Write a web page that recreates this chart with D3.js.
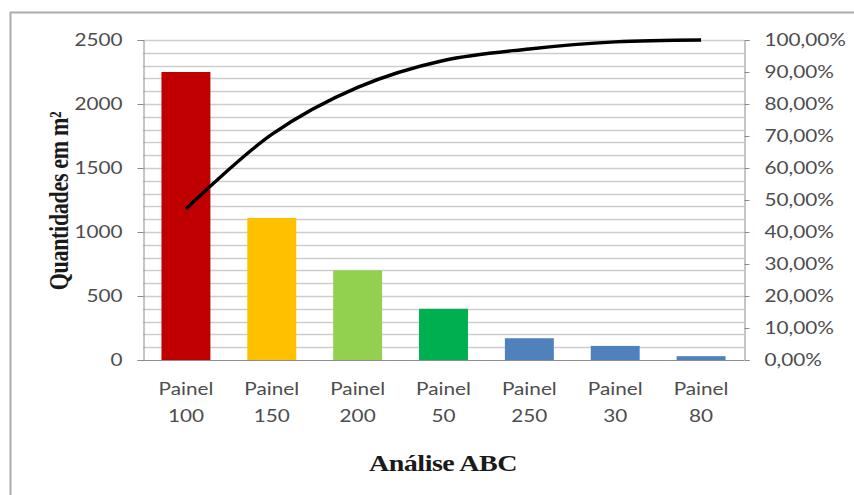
<!DOCTYPE html>
<html>
<head>
<meta charset="utf-8">
<script src="https://cdn.jsdelivr.net/npm/d3@7"></script>
<style>
  html, body { margin: 0; padding: 0; background: #fff; }
  svg { display: block; }
</style>
</head>
<body>
<svg id="chart" width="854" height="495"></svg>
<script>
// Pareto (ABC) data
const categories = ["Painel 100", "Painel 150", "Painel 200", "Painel 50", "Painel 250", "Painel 30", "Painel 80"];
const quantities = [2250, 1110, 700, 400, 170, 110, 30];
const cumulativePct = [47.2, 70.5, 85.2, 93.6, 97.2, 99.4, 100];
const barColors = ["#C00000", "#FFC000", "#92D050", "#00B050", "#4F81BD", "#4F81BD", "#4F81BD"];
const leftTicks = [0, 500, 1000, 1500, 2000, 2500];
const rightTicks = [0, 10, 20, 30, 40, 50, 60, 70, 80, 90, 100];

const svg = d3.select("#chart");
const plotLeft = 143, plotRight = 744, plotTop = 40, plotBottom = 360;
const STRETCH = 1.22; // horizontal widening applied to all lettering

// widen text horizontally while keeping its anchor point in place
function stretch(sel, k) {
  sel.each(function () {
    const t = d3.select(this);
    const xv = +t.attr("x") || 0;
    t.attr("x", xv / k).attr("transform", `scale(${k},1)`);
    t.selectAll("tspan").each(function () {
      const s = d3.select(this);
      if (s.attr("x") !== null) s.attr("x", +s.attr("x") / k);
    });
  });
}

// outer frame of the chart area
svg.append("rect")
  .attr("x", 10.5).attr("y", 12.5)
  .attr("width", 900).attr("height", 600)
  .attr("fill", "#fff")
  .attr("stroke", "#acacac").attr("stroke-width", 2);

const x = d3.scaleBand().domain(categories).range([plotLeft, plotRight]).paddingInner(0.43).paddingOuter(0.215);
const y = d3.scaleLinear().domain([0, 2500]).range([plotBottom, plotTop]);
const y2 = d3.scaleLinear().domain([0, 100]).range([plotBottom, plotTop]);

// horizontal gridlines every 100 units
svg.append("g")
  .selectAll("line")
  .data(d3.range(100, 2501, 100))
  .join("line")
  .attr("x1", plotLeft).attr("x2", plotRight)
  .attr("y1", d => Math.round(y(d)) + 0.5).attr("y2", d => Math.round(y(d)) + 0.5)
  .attr("stroke", "#cdcdcd").attr("stroke-width", 1.3);

// bars
svg.append("g")
  .selectAll("rect")
  .data(categories)
  .join("rect")
  .attr("x", d => x(d))
  .attr("width", x.bandwidth())
  .attr("y", (d, i) => y(quantities[i]))
  .attr("height", (d, i) => y(0) - y(quantities[i]))
  .attr("fill", (d, i) => barColors[i]);

const tickFont = "Lato, 'Open Sans', sans-serif";
const tickSize = 17;
const tickColor = "#4d4d4d";

// left axis
const gLeft = svg.append("g").attr("transform", `translate(${plotLeft + 0.5},0)`)
  .call(d3.axisLeft(y).tickValues(leftTicks).tickSize(6).tickPadding(15).tickFormat(d3.format("d")));
gLeft.select(".domain").attr("stroke", "#8c8c8c");
gLeft.selectAll(".tick line").attr("stroke", "#8c8c8c");
gLeft.selectAll("text").attr("font-family", tickFont).attr("font-size", tickSize).attr("fill", tickColor);
stretch(gLeft.selectAll("text"), STRETCH);

// right axis
const fmtPct = d => d.toFixed(2).replace(".", ",") + "%";
const gRight = svg.append("g").attr("transform", `translate(${plotRight + 0.5},0)`)
  .call(d3.axisRight(y2).tickValues(rightTicks).tickSize(5).tickPadding(15).tickFormat(fmtPct));
gRight.select(".domain").attr("stroke", "#8c8c8c");
gRight.selectAll(".tick line").attr("stroke", "#8c8c8c");
gRight.selectAll("text").attr("font-family", tickFont).attr("font-size", tickSize).attr("fill", tickColor);
stretch(gRight.selectAll("text"), STRETCH);

// baseline
svg.append("line")
  .attr("x1", plotLeft).attr("x2", plotRight)
  .attr("y1", plotBottom + 0.5).attr("y2", plotBottom + 0.5)
  .attr("stroke", "#8c8c8c");

// category labels (two lines)
const gx = svg.append("g");
categories.forEach((c, i) => {
  const parts = c.split(" ");
  const cx = x(c) + x.bandwidth() / 2;
  const t = gx.append("text")
    .attr("x", cx)
    .attr("y", 395)
    .attr("text-anchor", "middle")
    .attr("font-family", tickFont).attr("font-size", tickSize).attr("fill", tickColor);
  t.append("tspan").attr("x", cx).attr("dy", 0).text(parts[0]);
  t.append("tspan").attr("x", cx).attr("dy", 27).text(parts[1]);
});
stretch(gx.selectAll("text"), STRETCH);

// cumulative percentage line
const line = d3.line()
  .x((d, i) => x(categories[i]) + x.bandwidth() / 2)
  .y(d => y2(d))
  .curve(d3.curveCatmullRom.alpha(0.5));
svg.append("path")
  .datum(cumulativePct)
  .attr("d", line)
  .attr("fill", "none")
  .attr("stroke", "#000")
  .attr("stroke-width", 3.4)
  .attr("stroke-linecap", "butt")
  .attr("stroke-linejoin", "round");

// axis titles
const serif = "'Liberation Serif', 'Times New Roman', serif";
svg.append("text")
  .attr("transform", "translate(68,201) scale(1.2,1) rotate(-90)")
  .attr("text-anchor", "middle")
  .attr("font-family", serif)
  .attr("font-weight", "bold").attr("font-size", 22).attr("fill", "#1a1a1a")
  .attr("letter-spacing", -0.3)
  .text("Quantidades em m²");

const xTitle = svg.append("text")
  .attr("x", 443).attr("y", 471)
  .attr("text-anchor", "middle")
  .attr("font-family", serif)
  .attr("font-weight", "bold").attr("font-size", 23).attr("fill", "#1a1a1a")
  .attr("letter-spacing", -0.4)
  .text("Análise ABC");
stretch(xTitle, STRETCH);
</script>
</body>
</html>
